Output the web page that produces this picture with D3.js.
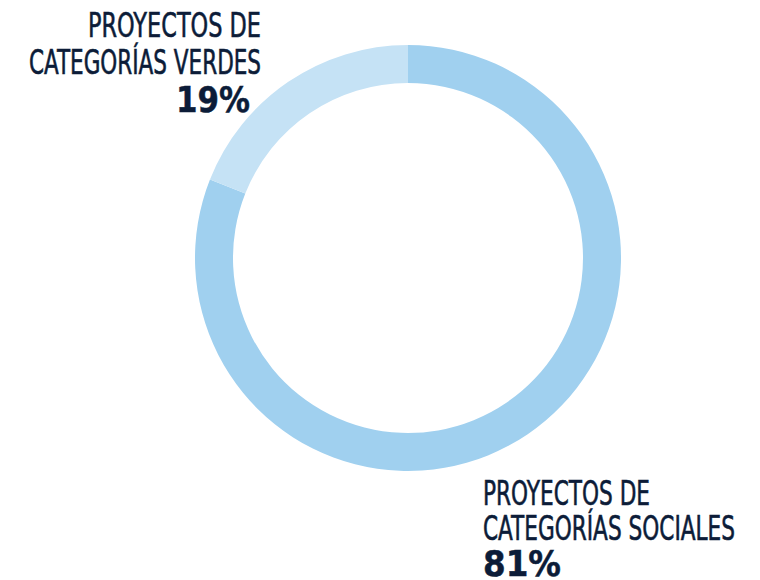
<!DOCTYPE html>
<html><head><meta charset="utf-8">
<script src="https://cdn.jsdelivr.net/npm/d3@7"></script>
<style>html,body{margin:0;padding:0;background:#fff;}</style>
</head><body>
<svg id="c" width="760" height="580"></svg>
<script>
const categories = ["PROYECTOS DE CATEGORÍAS SOCIALES", "PROYECTOS DE CATEGORÍAS VERDES"];
const values = [81, 19];
const labelLines = [["PROYECTOS DE", "CATEGORÍAS SOCIALES"], ["PROYECTOS DE", "CATEGORÍAS VERDES"]];
const valueLabels = ["81%", "19%"];
const colors = ["#a0d0ef", "#c5e2f5"];

const svg = d3.select("#c");
const cx = 408, cy = 258, R = 213, r = 175;
const g = svg.append("g").attr("transform", `translate(${cx},${cy})`);
const pie = d3.pie().sort(null).value(d => d)(values);
const arc = d3.arc().innerRadius(r).outerRadius(R);
g.selectAll("path").data(pie).enter().append("path")
  .attr("d", arc).attr("fill", (d, i) => colors[i]);

const navy = "#0c1c38";
function label(lines, pct, x, anchor, baselines, widths, pctBase, pctWidth) {
  lines.forEach((t, i) => {
    svg.append("text").attr("x", x).attr("y", baselines[i])
      .attr("text-anchor", anchor)
      .attr("font-family", "'Liberation Sans Narrow','DejaVu Sans Condensed',sans-serif")
      .attr("font-size", 34).attr("fill", navy)
      .attr("stroke", navy).attr("stroke-width", 0.6)
      .attr("textLength", widths[i]).attr("lengthAdjust", "spacingAndGlyphs")
      .text(t);
  });
  svg.append("text").attr("x", pct.x).attr("y", pctBase)
    .attr("text-anchor", anchor)
    .attr("font-family", "'DejaVu Sans',sans-serif").attr("font-weight", "bold")
    .attr("font-size", 35).attr("fill", navy)
    .attr("stroke", navy).attr("stroke-width", 0.5)
    .attr("textLength", pctWidth).attr("lengthAdjust", "spacingAndGlyphs")
    .text(pct.t);
}
label(labelLines[1], {t: valueLabels[1], x: 250}, 261, "end", [37, 74], [173, 232], 112, 74);
label(labelLines[0], {t: valueLabels[0], x: 483}, 483, "start", [505, 540], [167, 252], 576, 78);
</script>
</body></html>
